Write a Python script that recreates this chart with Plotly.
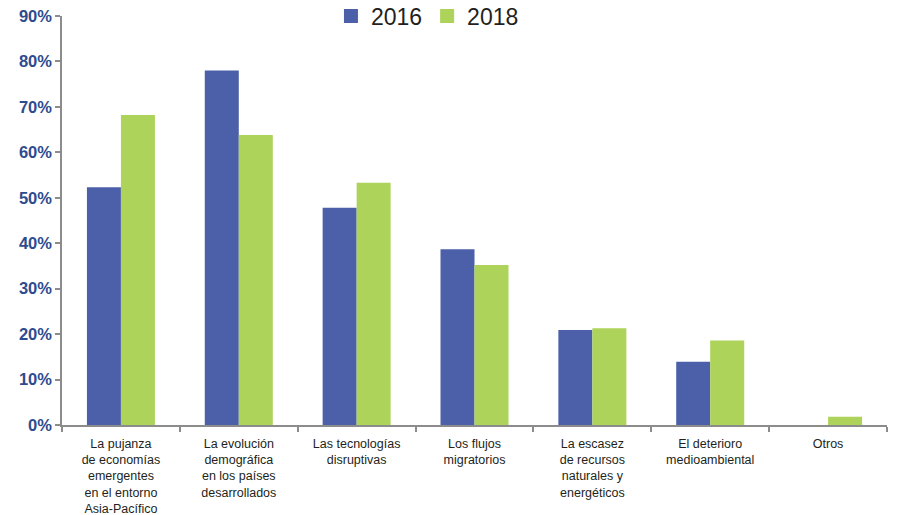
import plotly.graph_objects as go

categories = [
    "La pujanza de economías emergentes en el entorno Asia-Pacífico",
    "La evolución demográfica en los países desarrollados",
    "Las tecnologías disruptivas",
    "Los flujos migratorios",
    "La escasez de recursos naturales y energéticos",
    "El deterioro medioambiental",
    "Otros",
]
tick_labels = [
    "La pujanza<br>de economías<br>emergentes<br>en el entorno<br>Asia-Pacífico",
    "La evolución<br>demográfica<br>en los países<br>desarrollados",
    "Las tecnologías<br>disruptivas",
    "Los flujos<br>migratorios",
    "La escasez<br>de recursos<br>naturales y<br>energéticos",
    "El deterioro<br>medioambiental",
    "Otros",
]
values_2016 = [52.3, 78.0, 47.8, 38.7, 20.9, 13.9, None]
values_2018 = [68.2, 63.8, 53.3, 35.2, 21.3, 18.6, 1.8]
y_ticks = [0, 10, 20, 30, 40, 50, 60, 70, 80, 90]

BLUE = "#4B60A8"
GREEN = "#ADD35A"

fig = go.Figure()
fig.add_trace(go.Bar(x=categories, y=values_2016, marker_color=BLUE,
                     marker_line_width=0, showlegend=False, name="2016"))
fig.add_trace(go.Bar(x=categories, y=values_2018, marker_color=GREEN,
                     marker_line_width=0, showlegend=False, name="2018"))
# legend entries with square markers
fig.add_trace(go.Scatter(x=[None], y=[None], mode="markers", name="2016",
                         marker=dict(symbol="square", size=14, color=BLUE)))
fig.add_trace(go.Scatter(x=[None], y=[None], mode="markers", name="2018",
                         marker=dict(symbol="square", size=14, color=GREEN)))

fig.update_layout(
    width=897, height=515,
    margin=dict(l=62, r=10, t=16, b=90, autoexpand=False),
    paper_bgcolor="white", plot_bgcolor="white",
    barmode="group", bargap=0.423, bargroupgap=0,
    font=dict(family="Liberation Sans, Arial, sans-serif", color="#231F20"),
    showlegend=True,
    legend=dict(orientation="h", x=0.326, xanchor="left", y=1.0, yanchor="middle",
                font=dict(size=23, color="#231F20"), itemwidth=30,
                bgcolor="rgba(0,0,0,0)", traceorder="normal"),
)
fig.update_xaxes(
    type="category", categoryorder="array", categoryarray=categories,
    tickvals=categories, ticktext=tick_labels,
    tickson="boundaries", ticks="outside", ticklen=5, tickwidth=1.5, tickcolor="#8C8C8C",
    showline=True, linecolor="#8C8C8C", linewidth=1.5,
    tickfont=dict(size=12.5, color="#231F20"), ticklabelstandoff=6,
    showgrid=False, zeroline=False, automargin=False,
)
fig.update_yaxes(
    range=[0, 90], tickvals=y_ticks, ticktext=[f"{v}%" for v in y_ticks],
    ticks="outside", ticklen=5, tickwidth=1.5, tickcolor="#8C8C8C",
    showline=True, linecolor="#8C8C8C", linewidth=1.5,
    tickfont=dict(size=16.5, color="#2E4B8F", weight="bold"),
    ticklabeloverflow="allow",
    showgrid=False, zeroline=False, automargin=False,
)

fig.write_html("out.html", config={"displayModeBar": False},
               post_script="document.body.style.margin='0';document.body.style.padding='0';")
